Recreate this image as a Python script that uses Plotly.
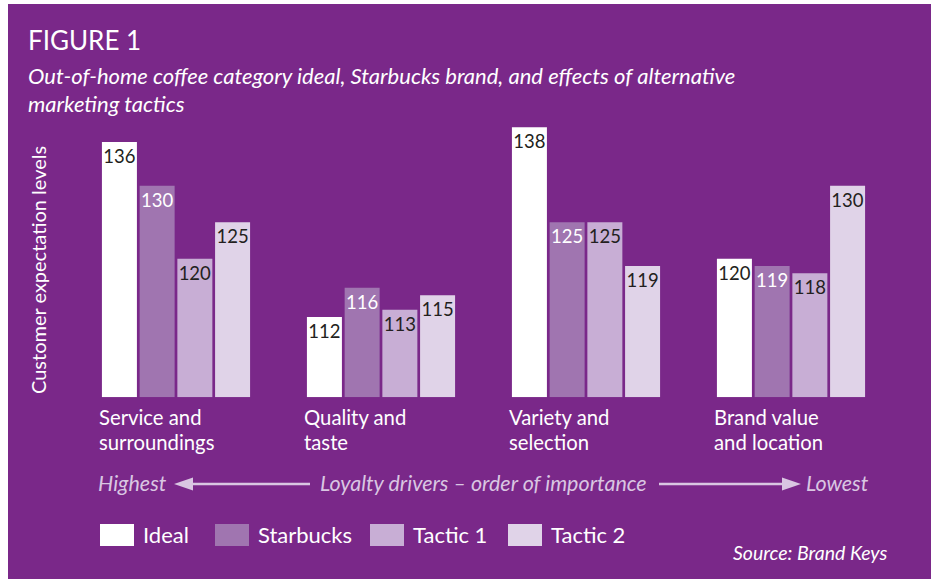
import plotly.graph_objects as go

W, H = 931, 579

categories = ["Service and<br>surroundings", "Quality and<br>taste",
              "Variety and<br>selection", "Brand value<br>and location"]
series_names = ["Ideal", "Starbucks", "Tactic 1", "Tactic 2"]
ideal = [136, 112, 138, 120]
starbucks = [130, 116, 125, 119]
tactic1 = [120, 113, 125, 118]
tactic2 = [125, 115, 119, 130]
series_values = [ideal, starbucks, tactic1, tactic2]
AXIS_MIN = 101

bar_colors = ["#FFFFFF", "#A075B0", "#C8AED5", "#E0D3E8"]
label_colors = ["#231F20", "#FFFFFF", "#231F20", "#231F20"]
BG = "#7A2889"
LAV = "#D9C6E2"
FONT = "Lato"


def px(x):
    return x / W


def py(y):
    return 1 - y / H


fig = go.Figure()
xs = list(range(len(categories)))
for name, vals, col, lc in zip(series_names, series_values, bar_colors, label_colors):
    fig.add_trace(go.Bar(
        x=xs, y=[v - AXIS_MIN for v in vals], base=AXIS_MIN, name=name,
        marker=dict(color=col, line=dict(width=0)),
        text=[str(v) for v in vals], textposition="inside",
        insidetextanchor="end", textangle=0, constraintext="none",
        textfont=dict(family=FONT, size=18.5, color=lc),
        showlegend=False, hoverinfo="skip",
    ))

shapes = [
    dict(type="rect", xref="paper", yref="paper", x0=px(8), x1=1, y0=0, y1=py(4),
         fillcolor=BG, line=dict(width=0), layer="below"),
]

annotations = [
    dict(text="FIGURE 1", x=px(25.5), y=py(40), xref="paper", yref="paper",
         xanchor="left", yanchor="middle", showarrow=False,
         font=dict(family=FONT, size=26, color="white")),
    dict(text="<i>Out-of-home coffee category ideal, Starbucks brand, and effects of alternative</i>",
         x=px(26), y=py(75), xref="paper", yref="paper",
         xanchor="left", yanchor="middle", showarrow=False,
         font=dict(family=FONT, size=22, color="white")),
    dict(text="<i>marketing tactics</i>",
         x=px(26), y=py(103), xref="paper", yref="paper",
         xanchor="left", yanchor="middle", showarrow=False,
         font=dict(family=FONT, size=22, color="white")),
    dict(text="Customer expectation levels", x=px(38), y=py(270), xref="paper", yref="paper",
         xanchor="center", yanchor="middle", textangle=-90, showarrow=False,
         font=dict(family=FONT, size=20, color="white")),
]

# Category labels (two lines, left-aligned under each group)
for i, cat in enumerate(categories):
    for j, line in enumerate(cat.split("<br>")):
        annotations.append(dict(
            text=line, x=i - 0.382, y=py(417 + 24.5 * j), xref="x", yref="paper",
            xanchor="left", yanchor="middle", showarrow=False, borderpad=0,
            font=dict(family=FONT, size=20.3, color="white")))

# Order of importance row
ay = 484
for txt, x, anchor in [("Highest", 96, "left"),
                       ("Loyalty drivers \u2013 order of importance", 318, "left"),
                       ("Lowest", 804, "left")]:
    annotations.append(dict(text="<i>" + txt + "</i>", x=px(x), y=py(ay - 1), xref="paper",
                            yref="paper", xanchor=anchor, yanchor="middle", showarrow=False,
                            font=dict(family=FONT, size=21.5, color=LAV)))
shapes += [
    dict(type="line", xref="paper", yref="paper", x0=px(190), x1=px(310), y0=py(ay), y1=py(ay),
         line=dict(color=LAV, width=2.5)),
    dict(type="path", xref="paper", yref="paper",
         path=f"M {px(174)},{py(ay)} L {px(193)},{py(ay - 6.5)} L {px(193)},{py(ay + 6.5)} Z",
         fillcolor=LAV, line=dict(width=0)),
    dict(type="line", xref="paper", yref="paper", x0=px(659), x1=px(785), y0=py(ay), y1=py(ay),
         line=dict(color=LAV, width=2.5)),
    dict(type="path", xref="paper", yref="paper",
         path=f"M {px(801)},{py(ay)} L {px(782)},{py(ay - 6.5)} L {px(782)},{py(ay + 6.5)} Z",
         fillcolor=LAV, line=dict(width=0)),
]

# Legend
leg_box_x = [100, 215, 370, 508]
for name, col, bx in zip(series_names, bar_colors, leg_box_x):
    shapes.append(dict(type="rect", xref="paper", yref="paper", x0=px(bx), x1=px(bx + 34),
                       y0=py(546), y1=py(524), fillcolor=col, line=dict(width=0)))
    annotations.append(dict(text=name, x=px(bx + 41), y=py(534), xref="paper", yref="paper",
                            xanchor="left", yanchor="middle", showarrow=False,
                            font=dict(family=FONT, size=22, color="white")))

annotations.append(dict(text="<i>Source: Brand Keys</i>", x=px(889), y=py(552), xref="paper",
                        yref="paper", xanchor="right", yanchor="middle", showarrow=False,
                        font=dict(family=FONT, size=19.5, color="white")))

fig.update_layout(
    width=W, height=H, margin=dict(l=0, r=0, t=0, b=0),
    paper_bgcolor="white", plot_bgcolor="rgba(0,0,0,0)",
    barmode="group", bargap=0.264, bargroupgap=0.072,
    xaxis=dict(domain=[px(73.5), px(893.5)], range=[-0.5, 3.5], showticklabels=False,
               showgrid=False, zeroline=False, showline=False, ticks=""),
    yaxis=dict(domain=[py(397.3), py(120)], range=[AXIS_MIN, 139], showticklabels=False,
               showgrid=False, zeroline=False, showline=False, ticks=""),
    uniformtext=dict(minsize=18.5, mode="show"),
    shapes=shapes, annotations=annotations,
    font=dict(family=FONT),
)

fig.write_html("out.html")
